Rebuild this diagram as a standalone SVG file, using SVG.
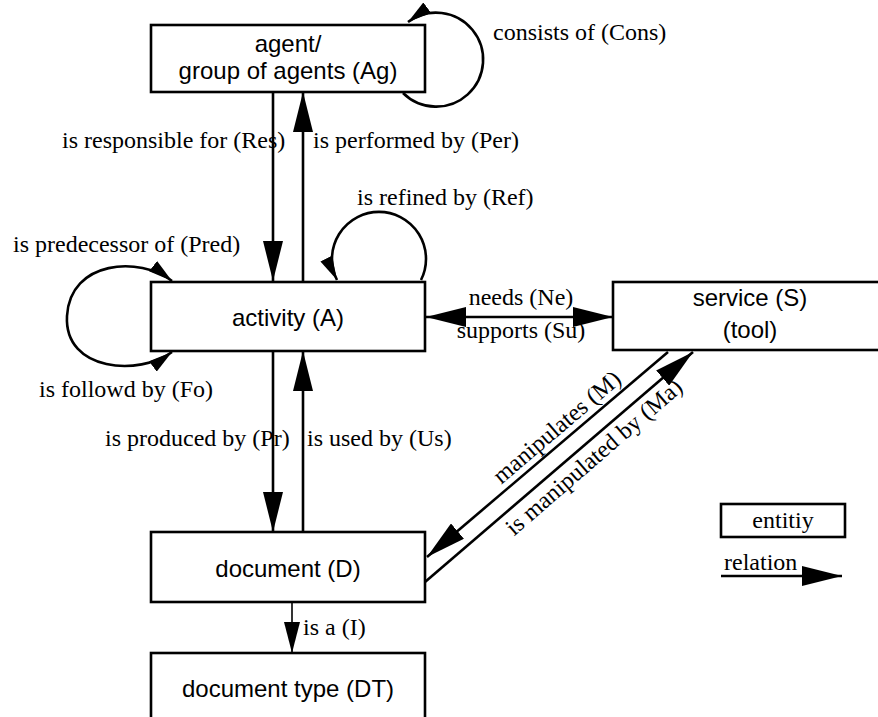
<svg xmlns="http://www.w3.org/2000/svg" width="878" height="717" viewBox="0 0 878 717">
<style>
.box{fill:#fff;stroke:#000;stroke-width:2.6}
.nt{font-family:"Liberation Sans",Arial,sans-serif;font-size:24px;fill:#000;text-anchor:middle}
.lb{font-family:"Liberation Serif","Times New Roman",serif;font-size:24px;fill:#000}
.ln{fill:none;stroke:#000;stroke-width:2.6}
.thin{fill:none;stroke:#000;stroke-width:1.6}
</style>
<defs>
<marker id="ah" viewBox="0 0 40 20" markerWidth="40" markerHeight="20" refX="40" refY="10" orient="auto-start-reverse" markerUnits="userSpaceOnUse"><path d="M0,0 L40,10 L0,20 z" fill="#000"/></marker>
<marker id="ahs" viewBox="0 0 24 13" markerWidth="24" markerHeight="13" refX="24" refY="6.5" orient="auto-start-reverse" markerUnits="userSpaceOnUse"><path d="M0,0 L24,6.5 L0,13 z" fill="#000"/></marker>
<marker id="ahi" viewBox="0 0 31 16" markerWidth="31" markerHeight="16" refX="31" refY="8" orient="auto" markerUnits="userSpaceOnUse"><path d="M0,0 L31,8 L0,16 z" fill="#000"/></marker>
</defs>

<g id="agent"><rect class="box" x="151" y="25" width="274" height="67"/><text class="nt" x="288" y="52">agent/</text><text class="nt" x="288" y="79">group of agents (Ag)</text></g>
<g id="activity"><rect class="box" x="151" y="282" width="274" height="69"/><text class="nt" x="288" y="326">activity (A)</text></g>
<g id="service"><rect class="box" x="613" y="282" width="300" height="68"/><text class="nt" x="750" y="306">service (S)</text><text class="nt" x="750" y="338">(tool)</text></g>
<g id="document"><rect class="box" x="151" y="532" width="274" height="70"/><text class="nt" x="288" y="577">document (D)</text></g>
<g id="doctype"><rect class="box" x="151" y="653" width="274" height="80"/><text class="nt" x="288" y="697">document type (DT)</text></g>
<g id="legend"><rect class="box" x="721" y="504" width="124" height="33"/><text class="lb" x="783" y="528" text-anchor="middle">entitiy</text><line class="ln" x1="721" y1="576" x2="842" y2="576" marker-end="url(#ah)"/><text class="lb" x="724" y="570">relation</text></g>

<g id="connectors">
<path class="ln" d="M403 93 A47 47 0 1 0 408 22" marker-end="url(#ahs)"/>
<line class="ln" x1="273" y1="92" x2="273" y2="281" marker-end="url(#ah)"/>
<line class="ln" x1="303" y1="282" x2="303" y2="92" marker-end="url(#ah)"/>
<path class="ln" d="M421 280 A47 47 0 1 0 337 280" marker-end="url(#ahs)"/>
<path class="ln" d="M172 281 C140 256 70 260 67 316 C64 372 140 376 172 352" marker-start="url(#ahs)" marker-end="url(#ahs)"/>
<line class="ln" x1="426" y1="317" x2="613" y2="317" marker-start="url(#ah)" marker-end="url(#ah)"/>
<line class="ln" x1="273" y1="351" x2="273" y2="532" marker-end="url(#ah)"/>
<line class="ln" x1="303" y1="532" x2="303" y2="351" marker-end="url(#ah)"/>
<line class="ln" x1="668" y1="352" x2="427" y2="557" marker-end="url(#ah)"/>
<line class="ln" x1="425" y1="582" x2="693" y2="352" marker-end="url(#ah)"/>
<line class="thin" x1="292" y1="602" x2="292" y2="653" marker-end="url(#ahi)"/>
</g>

<g id="labels">
<text class="lb" x="493" y="40">consists of (Cons)</text>
<text class="lb" x="62" y="148">is responsible for (Res)</text>
<text class="lb" x="313" y="148">is performed by (Per)</text>
<text class="lb" x="357" y="205">is refined by (Ref)</text>
<text class="lb" x="13" y="252">is predecessor of (Pred)</text>
<text class="lb" x="39" y="397">is followd by (Fo)</text>
<text class="lb" x="521" y="305" text-anchor="middle">needs (Ne)</text>
<text class="lb" x="521" y="338" text-anchor="middle">supports (Su)</text>
<text class="lb" x="105" y="446">is produced by (Pr)</text>
<text class="lb" x="307" y="446">is used by (Us)</text>
<text class="lb" x="562" y="433" text-anchor="middle" transform="rotate(-40.4 562 433)">manipulates (M)</text>
<text class="lb" x="599" y="463" text-anchor="middle" transform="rotate(-40.8 599 463)">is manipulated by (Ma)</text>
<text class="lb" x="303" y="635">is a (I)</text>
</g>
</svg>
